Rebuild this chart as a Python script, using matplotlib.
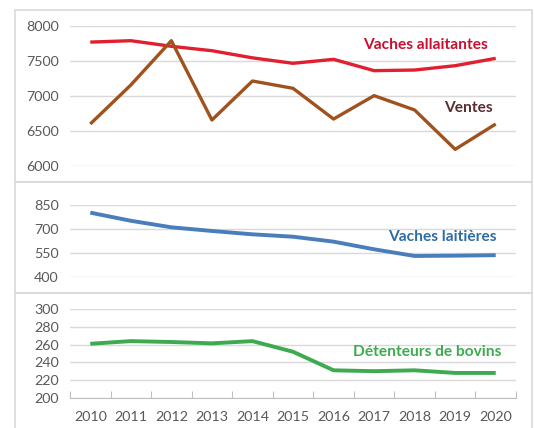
import matplotlib
matplotlib.use("Agg")
import matplotlib.pyplot as plt

years = ["2010", "2011", "2012", "2013", "2014", "2015", "2016", "2017", "2018", "2019", "2020"]
vaches_allaitantes = [7770, 7790, 7710, 7647, 7545, 7467, 7524, 7362, 7371, 7433, 7538]
ventes = [6600, 7157, 7790, 6657, 7214, 7110, 6671, 7005, 6800, 6238, 6600]
vaches_laitieres = [802, 751, 710, 687, 666, 651, 620, 572, 530, 532, 535]
detenteurs = [261, 264, 263, 261.5, 264, 252, 231, 230, 231, 228, 228]

yticks1 = [6000, 6500, 7000, 7500, 8000]
yticks2 = [400, 550, 700, 850]
yticks3 = [200, 220, 240, 260, 280, 300]

plt.rcParams['font.family'] = ['Lato', 'DejaVu Sans']

W, H = 534, 428
fig = plt.figure(figsize=(W / 100, H / 100), dpi=100)

def fx(px):
    return px / W

def fy(py):
    return 1 - py / H

left, right = 70, 516
panels = [
    (26, 166, (6000, 8000), yticks1),
    (205, 276.7, (400, 850), yticks2),
    (309.3, 397.7, (200, 300), yticks3),
]

# panel boxes
border = "#d9d9d9"
for (y0, y1) in [(10, 181.7), (181.7, 293.3), (293.3, 440)]:
    rect = plt.Rectangle((fx(15), fy(y1)), fx(531.5) - fx(15), fy(y0) - fy(y1),
                         transform=fig.transFigure, fill=False, edgecolor=border, lw=1.2)
    fig.add_artist(rect)

axes = []
x = list(range(len(years)))
for (top, bot, ylim, ticks) in panels:
    ax = fig.add_axes([fx(left), fy(bot), fx(right) - fx(left), fy(top) - fy(bot)])
    ax.set_xlim(-0.5, len(years) - 0.5)
    ax.set_ylim(*ylim)
    ax.set_yticks(ticks)
    ax.set_yticklabels([str(t) for t in ticks], fontsize=10.3, color="#595959")
    ax.tick_params(axis="y", length=0, pad=8)
    ax.grid(axis="y", color="#d9d9d9", lw=1)
    ax.set_axisbelow(True)
    for s in ax.spines.values():
        s.set_visible(False)
    ax.set_xticks([])
    axes.append(ax)

ax1, ax2, ax3 = axes
lw = 2.4
ax1.plot(x, vaches_allaitantes, color="#E0202E", lw=lw, solid_capstyle="butt")
ax1.plot(x, ventes, color="#A0521E", lw=lw, solid_capstyle="butt")
ax2.plot(x, vaches_laitieres, color="#4A7EBB", lw=lw + 0.4, solid_capstyle="butt")
ax3.plot(x, detenteurs, color="#3DAA50", lw=lw + 0.4, solid_capstyle="butt")

# bottom axis with tick marks at category boundaries
ax3.spines["bottom"].set_visible(True)
ax3.spines["bottom"].set_color("#bfbfbf")
ax3.set_xticks([i - 0.5 for i in range(len(years) + 1)])
ax3.set_xticklabels([""] * (len(years) + 1))
ax3.tick_params(axis="x", length=5, color="#bfbfbf", direction="in")
for i, yr in enumerate(years):
    ax3.text(i, -0.15, yr, transform=ax3.get_xaxis_transform(), ha="center", va="top",
             fontsize=10.3, color="#595959")

# series labels
fig.text(fx(488), fy(45), "Vaches allaitantes", ha="right", va="center",
         fontsize=11.2, fontweight="bold", color="#C8102E")
fig.text(fx(493), fy(108), "Ventes", ha="right", va="center",
         fontsize=11.2, fontweight="bold", color="#5A2E2E")
fig.text(fx(497), fy(236.7), "Vaches laitières", ha="right", va="center",
         fontsize=11.2, fontweight="bold", color="#2E6CA4")
fig.text(fx(501), fy(351.7), "Détenteurs de bovins", ha="right", va="center",
         fontsize=11.2, fontweight="bold", color="#3DAA50")

fig.savefig("out.png", dpi=100)
